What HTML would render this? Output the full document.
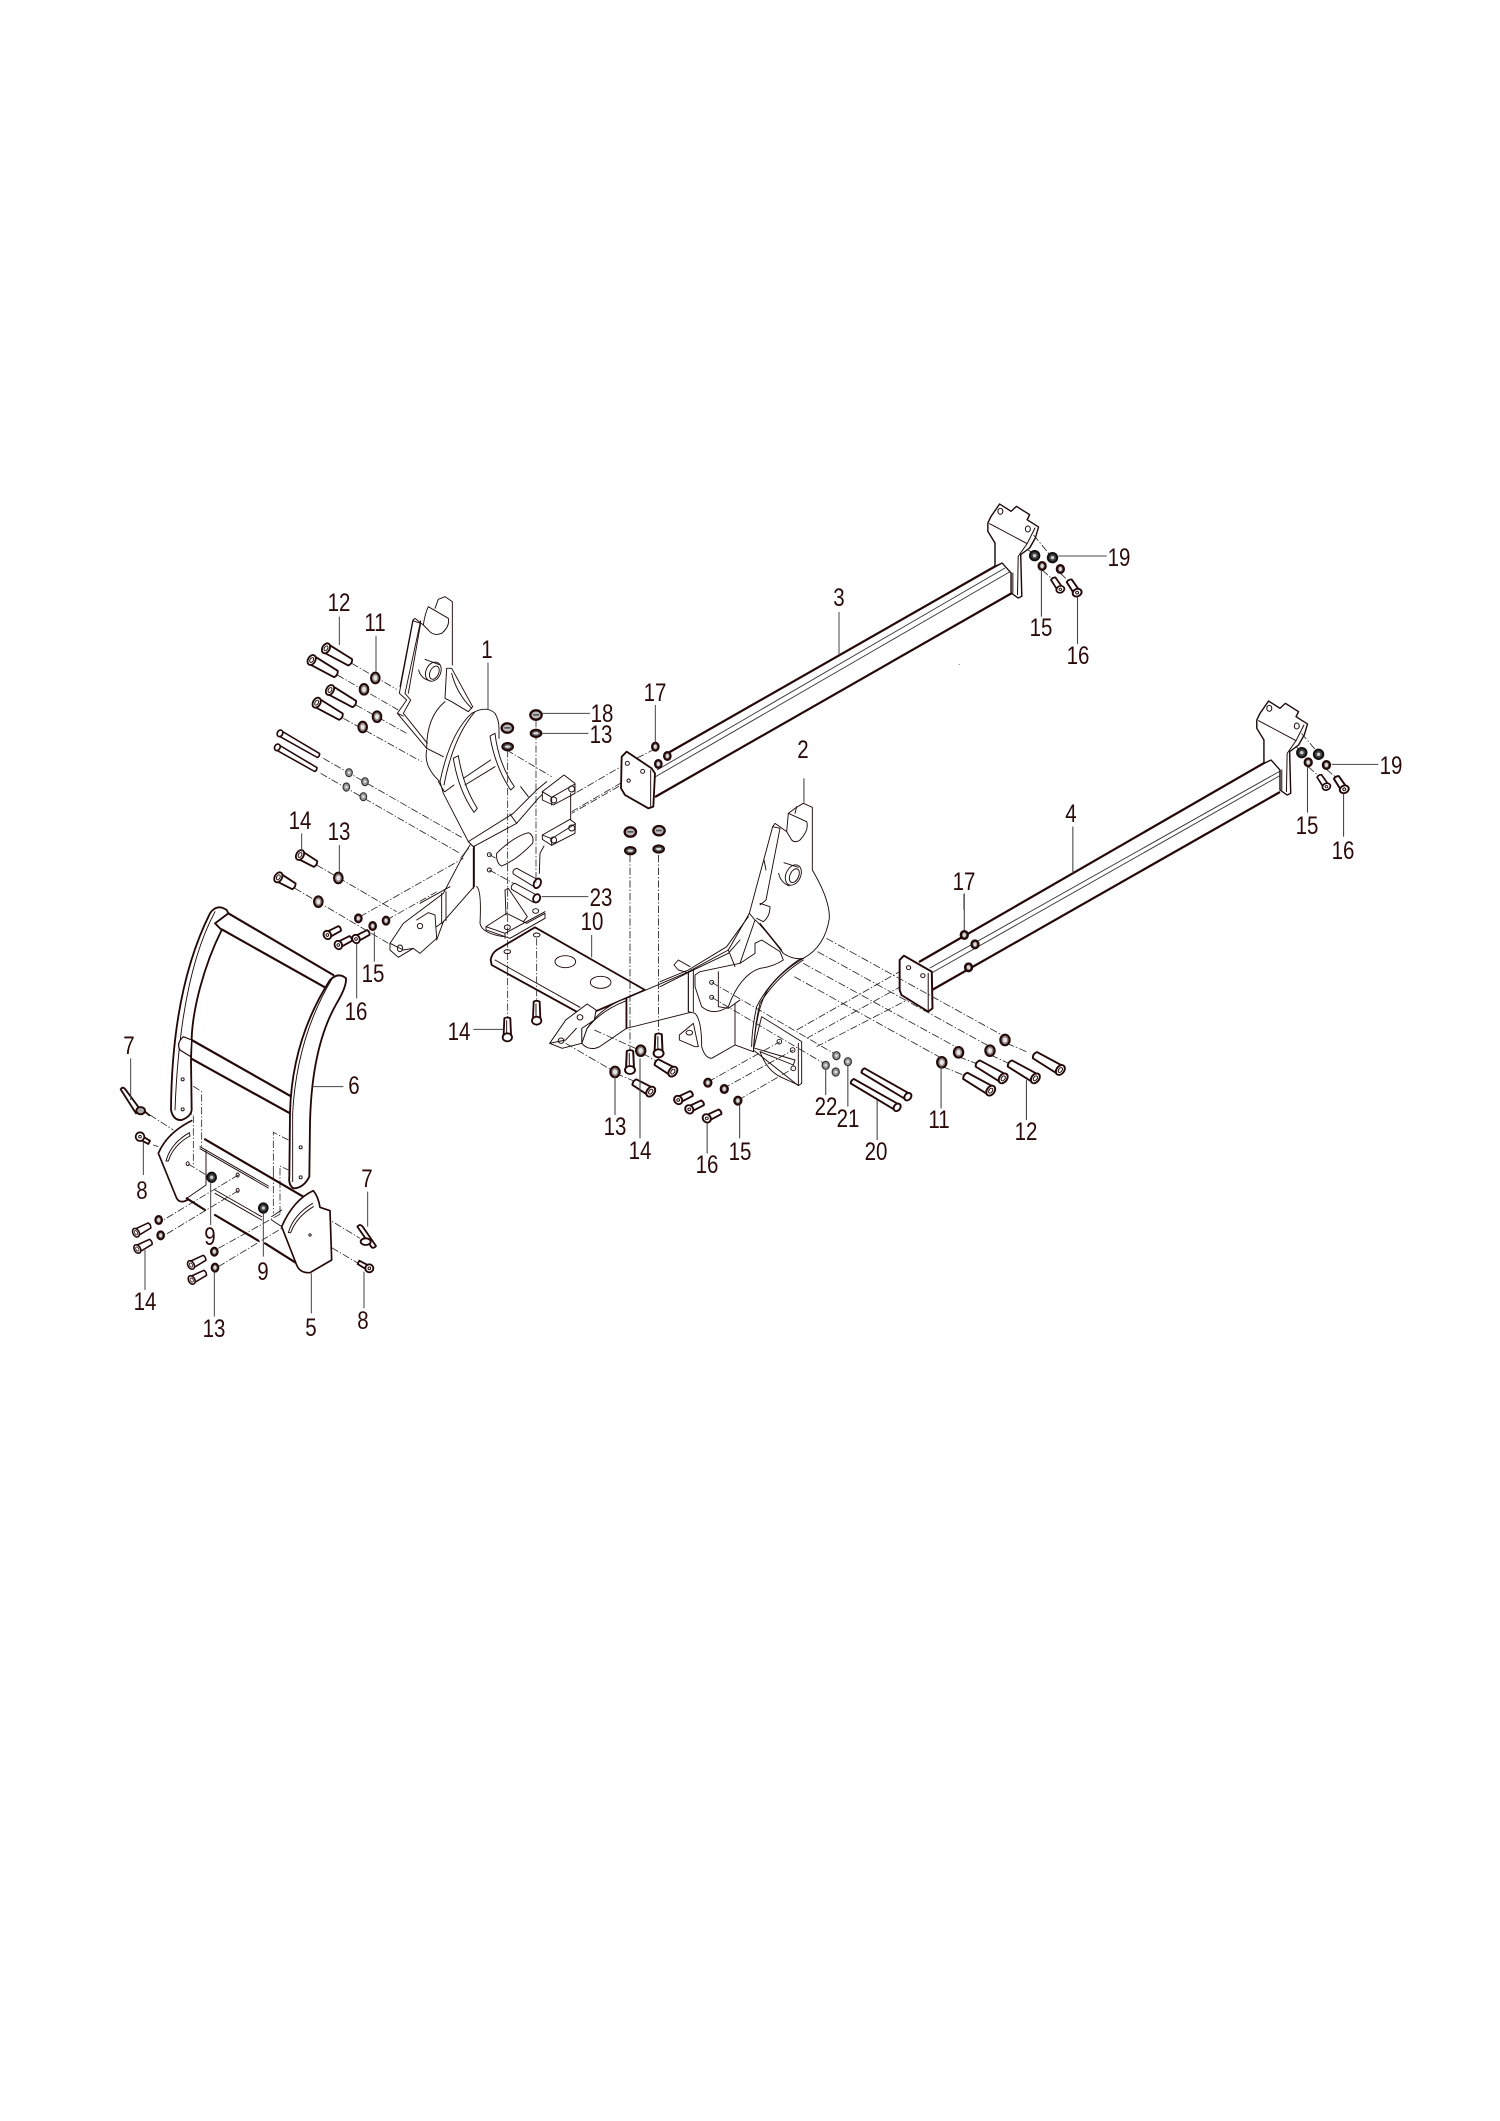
<!DOCTYPE html>
<html><head><meta charset="utf-8"><style>
html,body{margin:0;padding:0;background:#fff}
svg{display:block}
.n{font:25px "Liberation Sans",sans-serif;fill:#2b0a0a;text-anchor:middle;stroke:none}
.t{fill:none;stroke:#1c0a0a;stroke-width:2.8;stroke-linejoin:round;stroke-linecap:round}
.f{fill:#fff;stroke:#1c0a0a;stroke-width:2.8;stroke-linejoin:round;stroke-linecap:round}
.k{fill:none;stroke:#240808;stroke-width:6.5;stroke-linejoin:round;stroke-linecap:round}
.kf{fill:#fff;stroke:#240808;stroke-width:5.5;stroke-linejoin:round;stroke-linecap:round}
.d{fill:none;stroke:#222;stroke-width:2.4;stroke-dasharray:22 6 4 6}
.l{fill:none;stroke:#444;stroke-width:3}
</style></head><body>
<svg width="1500" height="2121" viewBox="0 0 1500 2121" xmlns="http://www.w3.org/2000/svg">
<defs>
<g id="w"><ellipse rx="10" ry="12" fill="#6a6060" stroke="#240808" stroke-width="6"/><ellipse rx="4.5" ry="6" fill="#ddd"/></g>
<g id="wL"><ellipse rx="13" ry="16" fill="#8a8080" stroke="#240808" stroke-width="6"/><ellipse rx="6" ry="8" fill="#e4e4e4"/></g>
<g id="wd"><ellipse rx="13" ry="14" fill="#444" stroke="#111" stroke-width="6"/><ellipse rx="5" ry="5" fill="#ccc"/></g>
<g id="wf"><ellipse rx="16" ry="11" fill="#555" stroke="#240808" stroke-width="6"/><ellipse rx="8" ry="3.5" fill="#ddd"/></g>
<g id="wh"><ellipse rx="17" ry="14" fill="#bbb" stroke="#240808" stroke-width="7"/><rect x="-9" y="-3" width="18" height="5" fill="#555"/></g>
<g id="s"><ellipse rx="10" ry="12" fill="#999" stroke="#333" stroke-width="3.5"/><circle r="3.5" fill="#eee"/></g>
<g id="b12" class="kf"><path d="M0,-14 L84,-11 Q92,0 84,11 L0,14Z"/><ellipse rx="11" ry="16"/><ellipse rx="5" ry="8" class="t"/></g>
<g id="b14" class="kf"><path d="M0,-13 L54,-10 Q60,0 54,10 L0,13Z"/><ellipse rx="11" ry="16"/><ellipse rx="5" ry="8" class="t"/></g>
<g id="b16" class="kf"><path d="M0,-9 L42,-8 Q47,0 42,8 L0,9Z"/><ellipse rx="11" ry="13"/><circle r="4" class="t"/></g>
<g id="bl" class="kf"><path d="M0,-10 L148,-8 Q153,0 148,8 L0,10Z"/><ellipse rx="9" ry="12"/></g>
<g id="bv" class="kf"><path d="M-9,-55 Q0,-60 9,-55 L11,-6 L-11,-6Z"/><ellipse cy="2" rx="14" ry="12"/><path class="t" d="M-2,-48 L-2,-10"/></g>
<g id="end"><path class="f" d="M1055,690 L1064,670 L1088,633 L1120,655 L1135,640 L1172,665 L1165,680 L1197,702 L1188,735 L1172,765 L1147,785 L1150,910 L1140,915 L1120,900 L1120,840 L1095,810 L1075,820 L1075,750 L1055,715Z" style="stroke-width:4"/><path class="t" d="M1060,692 L1165,752 L1187,705 M1165,752 L1140,790 L1138,905 M1125,840 L1125,900"/><ellipse cx="1090" cy="655" rx="7" ry="9" class="t"/><ellipse cx="1167" cy="708" rx="7" ry="9" class="t"/></g>
</defs>

<!-- beams -->
<path d="M668,753 L1001,563 M655,797 L1012,593" fill="none" stroke="#240808" stroke-width="2.2"/>
<path d="M655,777 L1013,570 M657,770 L1005,568" fill="none" stroke="#333" stroke-width=".9"/>
<path d="M919,962 L1271,759 M932,990 L1280,792" fill="none" stroke="#240808" stroke-width="2.2"/>
<path d="M930,968 L1282,770 M928,975 L1281,775" fill="none" stroke="#333" stroke-width=".9"/>
<path d="M839,612 L839,655" class="l" style="stroke-width:1"/>

<!-- Z1a dashes -->
<g transform="translate(250,550) scale(.33333)">
<path class="d" d="M305,340 L440,418 M262,375 L445,480 M318,465 L470,550 M280,505 L515,635 M220,625 L640,865 M212,670 L630,910 M200,945 L440,1085 M135,1015 L415,1180 M330,1100 L640,925 M410,1110 L570,1020 M770,600 L905,680 M1130,640 L975,730 M1180,660 L965,785 M1140,690 L965,790 M1215,597 L1130,640 M718,913 L745,930 M718,960 L800,1005"/>
</g>

<!-- bracket 1 -->
<g transform="translate(400,590) scale(.33333)">
<path class="f" d="M157,35 L157,225 L138,240 L135,335 Q80,380 80,475 Q70,530 120,575 L130,610 L205,755 L220,770 L350,700 L415,625 L440,575 L343,590 L297,420 Q297,390 285,370 Q260,345 215,370 L205,360 L140,235 L135,325 L60,420 L0,300 L38,92 L45,85 L85,50 L105,55 L115,28 L135,20Z" style="stroke:none"/>
<path class="t" d="M105,55 L115,28 L135,20 L157,35 L157,225 M85,50 L145,85 Q150,110 125,130 Q100,140 85,120 L70,105 L45,85 L38,92 L0,290 M85,50 Q75,70 70,105 M62,100 L25,310 M38,92 L62,100"/>
<ellipse cx="100" cy="245" rx="22" ry="30" transform="rotate(25 100 245)" class="f"/><ellipse cx="103" cy="248" rx="13" ry="21" transform="rotate(25 103 248)" class="t"/><path class="t" d="M75,208 L118,224 M56,240 Q62,265 88,272"/>
<path class="t" d="M140,235 L155,235 L218,350 L205,365 M140,235 L135,325 L155,335 L205,365 M155,250 Q170,310 215,355"/>
<path class="t" d="M135,335 Q80,380 80,475 L130,500 M80,480 Q70,530 120,575 L130,610 L205,755 L220,770 M115,575 L133,605"/>
<path class="t" d="M120,575 Q150,430 215,370 Q260,345 285,370 Q297,390 297,415 M132,585 Q160,440 225,365 M297,415 L297,445"/>
<path class="f" d="M160,505 L175,497 Q190,590 232,655 L222,667 Q175,600 160,505Z"/>
<path class="f" d="M270,438 L285,430 Q295,520 343,590 L332,600 Q285,530 270,438Z"/>
<path class="t" d="M190,565 L272,510 M195,585 L285,530 M135,605 L162,585"/>
<path class="t" d="M205,755 L340,670 L410,600 L440,575 M220,770 L350,700 L415,625 L430,610 M330,672 L350,700 M205,755 L220,770 M362,590 L385,620"/>
<path class="t" d="M205,775 L185,800 L130,900 M220,775 L220,895" style="stroke-width:3"/>
<path class="f" d="M427,605 L492,555 L525,580 L525,610 L460,645 L427,630Z"/><path class="t" d="M427,605 L455,622 L525,582 M455,622 L455,645"/><circle cx="515" cy="597" r="9" class="t"/><circle cx="461" cy="630" r="9" class="t"/>
<path class="f" d="M427,735 L510,688 L526,700 L525,730 L455,766 L427,748Z"/><path class="t" d="M427,735 L455,746 L525,702 M455,746 L455,766 M512,610 L512,688"/><circle cx="515" cy="714" r="9" class="t"/><circle cx="461" cy="750" r="9" class="t"/>
<path class="t" d="M432,768 L420,790 L418,850"/>
<path class="f" d="M290,790 Q340,740 385,728 Q403,735 398,760 Q350,810 305,828 Q288,820 290,790"/>
<circle cx="268" cy="794" r="6" class="t"/><circle cx="268" cy="840" r="6" class="t"/>
</g>

<!-- Z1b -->
<g transform="translate(250,550) scale(.33333)">
<path class="t" d="M490,208 L448,430 L470,450 L442,490 L530,595 M512,212 L465,430 L482,450 L460,490 L532,580 M442,490 L460,498"/>
<path class="k" style="stroke-width:5" d="M672,890 L672,1010"/>
<path class="f" d="M800,955 L865,990 L855,1012 L790,972 Q785,960 800,955Z"/><path class="f" d="M795,1000 L860,1035 L850,1057 L785,1018 Q780,1005 795,1000Z"/>
<ellipse cx="862" cy="1000" rx="10" ry="15" transform="rotate(25 862 1000)" class="kf"/><ellipse cx="860" cy="1045" rx="10" ry="13" transform="rotate(25 860 1045)" class="kf"/>
<path class="f" d="M708,1130 L770,1090 L830,1120 L885,1090 L885,1105 L780,1165 L708,1140Z"/><path class="t" d="M765,1020 L775,1015 L832,1100 L820,1115 M765,1020 L768,1095 M708,1130 L765,1150 L885,1085 M765,1150 L765,1165"/>
<ellipse cx="772" cy="1132" rx="9" ry="7" class="t"/><ellipse cx="857" cy="1083" rx="9" ry="7" class="t"/>
<path class="t" d="M680,1010 Q695,1020 690,1120 Q695,1150 760,1160"/>
<path class="f" d="M660,885 L635,925 L580,1030 L460,1120 L420,1180 L420,1200 L445,1222 L490,1195 L510,1210 L560,1165 L555,1095 L535,1088 L500,1110 M672,1010 L580,1115 L560,1130"/>
<path class="t" d="M575,1030 L575,1120 M588,1025 L588,1112 M420,1180 L460,1200 L490,1195 M600,1010 L510,1060 M560,1170 L580,1115"/>
<circle cx="510" cy="1128" r="8" class="t"/><ellipse cx="450" cy="1195" rx="8" ry="10" class="t"/>
<path class="kf" d="M722,1230 Q725,1210 740,1200 L855,1132 L1185,1320 L1000,1400 L980,1385 L725,1245Z"/>
<path class="t" d="M735,1230 L990,1372"/>
<ellipse cx="946" cy="1235" rx="31" ry="18" class="t"/><ellipse cx="1052" cy="1297" rx="31" ry="18" class="t"/><ellipse cx="772" cy="1205" rx="10" ry="6" class="t"/><ellipse cx="860" cy="1155" rx="10" ry="6" class="t"/>
<path class="kf" d="M1115,620 L1130,605 L1205,655 L1215,670 L1210,770 L1195,775 L1125,735 L1113,715Z"/>
<path class="t" d="M1202,660 L1202,770"/><circle cx="1132" cy="640" r="6" class="t"/><circle cx="1178" cy="664" r="6" class="t"/><circle cx="1136" cy="692" r="5" class="t"/>
<path class="d" d="M773,600 L773,1410 M858,510 L858,1000 M860,1165 L860,1360"/>
<use href="#w" x="1216" y="590"/><use href="#w" x="1252" y="618"/><use href="#w" x="1225" y="642"/>
<use href="#b12" transform="translate(228,295) rotate(30)"/><use href="#b12" transform="translate(185,330) rotate(30)"/><use href="#b12" transform="translate(240,420) rotate(30)"/><use href="#b12" transform="translate(200,458) rotate(30)"/>
<use href="#wL" x="376" y="384"/><use href="#wL" x="342" y="418"/><use href="#wL" x="381" y="500"/><use href="#wL" x="338" y="531"/>
<use href="#bl" transform="translate(90,550) rotate(30) scale(.9,.85)"/><use href="#bl" transform="translate(82,592) rotate(30) scale(.9,.85)"/>
<use href="#s" x="297" y="668"/><use href="#s" x="345" y="695"/><use href="#s" x="289" y="711"/><use href="#s" x="340" y="740"/>
<use href="#b14" transform="translate(150,915) rotate(30)"/><use href="#b14" transform="translate(85,982) rotate(30)"/>
<use href="#wL" x="265" y="984"/><use href="#wL" x="205" y="1055"/><use href="#w" x="325" y="1105"/><use href="#w" x="368" y="1128"/><use href="#w" x="408" y="1112"/>
<use href="#b16" transform="translate(232,1155) rotate(-28)"/><use href="#b16" transform="translate(265,1185) rotate(-28)"/><use href="#b16" transform="translate(318,1167) rotate(-28)"/>
<use href="#wh" x="772" y="534"/><use href="#wf" x="773" y="590"/><use href="#wh" x="858" y="495"/><use href="#wf" x="858" y="550"/><use href="#wh" x="1141" y="846"/><use href="#wf" x="1141" y="902"/><use href="#wh" x="1227" y="842"/><use href="#wf" x="1226" y="897"/>
<use href="#bv" x="772" y="1460"/><use href="#bv" x="860" y="1410"/>
<path class="l" d="M268,200 L268,285 M378,258 L378,365 M1216,465 L1216,578 M875,490 L1020,490 M875,550 L1015,550 M155,850 L155,905 M268,885 L268,968 M875,1040 L1015,1040 M1025,1155 L1025,1222 M373,1145 L373,1235 M320,1180 L320,1345 M670,1438 L760,1438 M714,338 L714,478"/>
</g>

<!-- Z3 arm/ear -->
<g transform="translate(480,780) scale(.35714,.33333)">
<path class="f" d="M300,745 Q340,680 410,655 L585,575 L590,697 L410,745 L335,800 Q305,815 285,790Z"/>
<path class="t" d="M300,745 Q340,690 410,662"/>
<path class="k" style="stroke-width:5" d="M410,655 L410,745"/>
<path class="f" d="M195,790 L240,720 L300,672 L325,690 L320,720 L285,745 L285,790 L230,805Z"/><circle cx="280" cy="712" r="8" class="t"/><circle cx="227" cy="782" r="8" class="t"/>
<path class="t" d="M195,790 L240,780 L270,745"/>
</g>

<!-- bracket 2 -->
<g transform="translate(660,790) scale(.33333)">
<path class="f" d="M305,680 L425,755 L425,880 L415,887 L280,780Z"/>
<path class="t" d="M415,760 L415,885"/><circle cx="358" cy="755" r="7" class="t"/><circle cx="398" cy="780" r="7" class="t"/><circle cx="400" cy="835" r="7" class="t"/>
<path class="t" d="M285,775 L405,810 L400,825 L300,785 M300,785 Q320,840 360,860 L415,885"/>
<path class="t" d="M42,525 L55,510 L90,530 M42,525 L55,540 L85,548"/>
<path class="f" d="M405,55 L430,40 L457,52 L457,240 Q510,330 508,385 Q495,470 430,505 Q370,540 330,590 Q290,640 280,785 L225,765 L155,805 Q135,805 125,770 Q125,690 105,670 L85,665 L85,545 L205,480 L268,370 L338,110 L345,100 L380,125 L385,70Z"/>
<path class="t" d="M385,70 L440,95 Q448,120 420,150 Q405,160 395,150 L380,125 M405,70 L410,50 M360,115 L318,330 L300,345 M312,210 L318,240 M338,110 L360,115"/>
<ellipse cx="400" cy="255" rx="22" ry="32" transform="rotate(25 400 255)" class="f"/><ellipse cx="403" cy="257" rx="13" ry="22" transform="rotate(25 403 257)" class="t"/><path class="t" d="M372,218 L415,232 M356,250 Q362,278 388,288"/>
<path class="t" d="M268,370 L285,390 Q300,400 370,490 Q400,510 430,505 M300,340 L330,350 Q330,380 310,395 L290,385 M285,390 L240,520 M300,400 L365,480"/>
<path class="t" d="M0,590 L90,545 L205,490 L240,450 M0,575 L85,540 L200,470 L265,380 M205,480 L225,530"/>
<path class="t" d="M120,545 L240,520 L285,490 L285,460 L305,450 L360,485 L370,510 Q340,530 300,535 Q240,555 205,650 Q160,680 125,650 L105,590 L105,555 Z"/>
<path class="t" d="M175,545 L175,650 L205,655 L240,630 L225,640 M85,545 L85,665 M100,538 L100,665 M225,640 L225,765"/>
<path class="t" d="M430,510 Q350,560 300,640 Q285,700 280,785 M415,510 Q330,570 290,650 Q275,720 275,770 M415,510 L430,505"/>
<path class="f" d="M58,735 L100,700 L115,770 L105,770 L58,750Z"/><ellipse cx="88" cy="728" rx="10" ry="7" class="t"/>
<circle cx="155" cy="577" r="6" class="t"/><circle cx="155" cy="622" r="6" class="t"/>
<path class="d" d="M410,720 L745,530 M440,745 L785,555 M470,770 L790,605 M155,577 L530,795 M155,622 L500,825 M145,875 L360,755 M190,895 L400,780 M235,930 L400,835"/>
</g>

<!-- Z3 hardware -->
<g transform="translate(480,780) scale(.35714,.33333)">
<path class="kf" d="M1175,540 L1187,527 L1265,575 L1267,685 L1255,695 L1180,645 L1175,630Z"/><path class="t" d="M1255,580 L1255,690"/><circle cx="1200" cy="563" r="6" class="t"/><circle cx="1240" cy="587" r="6" class="t"/>
<path class="d" d="M970,475 L1470,770 M945,515 L1428,800 M905,550 L1340,805 M880,590 L1293,835 M420,225 L420,815 M500,225 L500,770 M1475,790 L1530,815 M1430,825 L1490,855 M1340,830 L1400,855 M1295,860 L1360,888 M320,750 L450,812 M240,790 L378,876 M380,880 L435,905 M455,820 L497,845"/>
<use href="#w" x="1356" y="465"/><use href="#w" x="1386" y="493"/><use href="#w" x="1368" y="562"/>
<use href="#wL" x="450" y="812"/><use href="#wL" x="378" y="876"/>
<use href="#bv" x="420" y="868"/><use href="#bv" x="500" y="818"/>
<use href="#b14" transform="translate(540,875) rotate(212)"/><use href="#b14" transform="translate(478,935) rotate(212)"/>
<use href="#w" x="638" y="908"/><use href="#w" x="684" y="927"/><use href="#w" x="722" y="962"/>
<use href="#b16" transform="translate(555,960) rotate(-28)"/><use href="#b16" transform="translate(586,988) rotate(-28)"/><use href="#b16" transform="translate(635,1015) rotate(-28)"/>
<use href="#s" x="998" y="827"/><use href="#s" x="968" y="856"/><use href="#s" x="1030" y="845"/><use href="#s" x="996" y="876"/>
<use href="#bl" transform="translate(1198,950) rotate(212)"/><use href="#bl" transform="translate(1168,982) rotate(212)"/>
<use href="#wL" x="1470" y="780"/><use href="#wL" x="1428" y="812"/><use href="#wL" x="1340" y="817"/><use href="#wL" x="1293" y="847"/>
<use href="#b12" transform="translate(1625,870) rotate(212)"/><use href="#b12" transform="translate(1555,895) rotate(212)"/><use href="#b12" transform="translate(1465,895) rotate(212)"/><use href="#b12" transform="translate(1430,932) rotate(212)"/>
<path class="l" d="M907,-5 L907,68 M378,890 L378,1005 M448,835 L448,1075 M727,975 L727,1075 M636,1030 L636,1120 M968,870 L968,945 M1030,858 L1030,980 M1112,960 L1112,1080 M1291,860 L1291,985 M1530,900 L1530,1020 M1356,340 L1356,450"/>
</g>

<!-- Z4 -->
<g transform="translate(880,490) scale(.35714,.33333)">
<use href="#end"/>
<use href="#end" transform="translate(-753,-591)"/>
<path class="d" d="M430,135 L480,200 M415,180 L430,190 M454,240 L480,265 M505,250 L530,275 M1180,730 L1228,790 M1165,770 L1181,785 M1199,830 L1225,855 M1250,838 L1280,865"/>
<use href="#wd" x="433" y="197"/><use href="#wd" x="483" y="203"/><use href="#w" x="454" y="228"/><use href="#w" x="505" y="237"/>
<use href="#wd" x="1181" y="788"/><use href="#wd" x="1228" y="793"/><use href="#w" x="1199" y="817"/><use href="#w" x="1250" y="825"/>
<use href="#b16" transform="translate(505,298) rotate(-122) scale(.9)"/><use href="#b16" transform="translate(552,308) rotate(-122)"/><use href="#b16" transform="translate(1250,890) rotate(-122) scale(.9)"/><use href="#b16" transform="translate(1300,898) rotate(-122)"/>
<path class="l" d="M500,198 L635,198 M452,240 L452,380 M553,320 L553,462 M1265,823 L1395,823 M1197,830 L1197,968 M1298,910 L1298,1040 M540,1010 L540,1150 M235,1212 L235,1260"/>
<circle cx="222" cy="523" r="1.5" fill="#555"/>
</g>

<!-- Guard -->
<g transform="translate(100,880) scale(.33333)">
<path class="d" d="M150,705 L220,750 M160,795 L175,800 M248,598 L305,635 L305,800 M248,688 L280,705 L280,855 M265,852 L335,895 M415,885 L190,1020 M415,932 L195,1065 M355,1105 L545,1000 M355,1160 L545,1045 M520,880 L520,757 L565,780 M540,1000 L540,858 L565,870 M640,990 L780,1075 M630,1065 L775,1150 M520,880 L520,1000"/>
<path class="k" d="M385,100 L700,285 M365,148 L680,325 M275,480 L575,650 M272,535 L570,700"/>
<path class="kf" d="M330,100 Q350,70 380,90 L385,100 L345,130 L365,150 C310,260 278,390 275,475 L273,540 L275,690 Q272,710 245,720 Q220,722 213,690 C215,400 270,220 330,100Z"/>
<path class="t" d="M345,95 Q240,290 225,690"/>
<path class="kf" d="M240,510 Q228,490 250,470 L275,480 L272,530Z" style="stroke-width:3.5"/>
<path class="kf" d="M690,300 Q715,275 738,295 Q740,320 710,370 Q635,500 630,730 L628,890 Q610,925 580,925 Q565,915 568,890 L570,700 Q575,480 690,300Z"/>
<path class="t" d="M700,290 Q590,470 578,700 L578,905"/>
<circle cx="248" cy="598" r="4.5" class="t"/><circle cx="248" cy="688" r="4.5" class="t"/><circle cx="602" cy="802" r="4.5" class="t"/><circle cx="602" cy="892" r="4.5" class="t"/>
</g>
<g transform="translate(150,1100) scale(.33333)">
<path class="k" d="M165,118 L460,290 M110,295 L165,330 M195,345 L325,422 M345,430 L440,490"/>
<path class="t" d="M150,140 L355,258 M150,146 L355,264 M195,270 L335,350 M195,280 L335,360 M168,150 L168,255 L110,295 M395,380 L440,480 M365,350 L395,330 M365,360 L395,380"/>
<path class="k" style="stroke-width:5" d="M125,62 Q50,100 25,160 L80,295 Q90,312 112,300"/>
<path class="t" d="M48,183 Q62,130 118,98 M55,183 Q70,135 120,108 M48,183 L55,183 M118,98 L120,108"/>
<ellipse cx="113" cy="191" rx="4.5" ry="6" class="t"/><ellipse cx="263" cy="225" rx="4.5" ry="6" class="t"/><ellipse cx="263" cy="271" rx="4.5" ry="6" class="t"/>
<path class="kf" d="M395,380 Q430,300 490,272 Q505,290 510,322 L540,332 L545,480 L480,518 Q450,520 440,495Z" style="stroke-width:5"/>
<path class="t" d="M415,398 Q430,345 488,310 M422,398 Q440,350 490,320 M415,398 L422,398"/><circle cx="480" cy="405" r="3.5" class="t"/>
</g>
<g transform="translate(100,880) scale(.33333)">
<g class="kf"><path d="M62,628 Q68,618 76,628 L118,685 L108,700Z"/><ellipse cx="122" cy="692" rx="13" ry="11" fill="#aaa"/><path d="M135,695 L148,706"/></g>
<g class="kf"><path d="M772,1040 Q780,1030 788,1040 L828,1098 Q822,1106 815,1102Z"/><ellipse cx="797" cy="1085" rx="15" ry="10"/></g>
<g class="kf"><path d="M120,765 L150,782 L145,792 L118,778Z"/><ellipse cx="120" cy="770" rx="13" ry="13"/><circle cx="120" cy="770" r="4" class="t"/></g>
<g class="kf"><path d="M808,1158 L778,1142 L773,1152 L805,1172Z"/><ellipse cx="808" cy="1165" rx="12" ry="12"/><circle cx="808" cy="1165" r="4" class="t"/></g>
<use href="#wd" x="335" y="892"/><use href="#wd" x="490" y="984"/>
<use href="#b14" transform="translate(108,1058) rotate(-28) scale(.85)"/><use href="#b14" transform="translate(112,1107) rotate(-28) scale(.85)"/><use href="#b14" transform="translate(273,1155) rotate(-28) scale(.85)"/><use href="#b14" transform="translate(275,1200) rotate(-28) scale(.85)"/>
<use href="#w" x="176" y="1020"/><use href="#w" x="182" y="1066"/><use href="#w" x="343" y="1115"/><use href="#w" x="345" y="1163"/>
<path class="l" d="M92,535 L92,660 M640,620 L730,620 M130,785 L130,885 M332,905 L332,1035 M490,1000 L490,1130 M803,935 L803,1040 M135,1110 L135,1230 M343,1175 L343,1310 M634,1180 L634,1300 M792,1175 L792,1285"/>
</g>

<!-- labels -->
<g>
<text class="n" transform="translate(339,611) scale(.82,1)">12</text>
<text class="n" transform="translate(375,631) scale(.82,1)">11</text>
<text class="n" transform="translate(487,658) scale(.82,1)">1</text>
<text class="n" transform="translate(655,701) scale(.82,1)">17</text>
<text class="n" transform="translate(602,722) scale(.82,1)">18</text>
<text class="n" transform="translate(601,743) scale(.82,1)">13</text>
<text class="n" transform="translate(300,829) scale(.82,1)">14</text>
<text class="n" transform="translate(339,840) scale(.82,1)">13</text>
<text class="n" transform="translate(601,906) scale(.82,1)">23</text>
<text class="n" transform="translate(592,930) scale(.82,1)">10</text>
<text class="n" transform="translate(373,982) scale(.82,1)">15</text>
<text class="n" transform="translate(356,1020) scale(.82,1)">16</text>
<text class="n" transform="translate(459,1040) scale(.82,1)">14</text>
<text class="n" transform="translate(129,1054) scale(.82,1)">7</text>
<text class="n" transform="translate(354,1094) scale(.82,1)">6</text>
<text class="n" transform="translate(142,1199) scale(.82,1)">8</text>
<text class="n" transform="translate(210,1245) scale(.82,1)">9</text>
<text class="n" transform="translate(367,1187) scale(.82,1)">7</text>
<text class="n" transform="translate(263,1280) scale(.82,1)">9</text>
<text class="n" transform="translate(145,1310) scale(.82,1)">14</text>
<text class="n" transform="translate(214,1337) scale(.82,1)">13</text>
<text class="n" transform="translate(311,1336) scale(.82,1)">5</text>
<text class="n" transform="translate(363,1329) scale(.82,1)">8</text>
<text class="n" transform="translate(615,1135) scale(.82,1)">13</text>
<text class="n" transform="translate(640,1159) scale(.82,1)">14</text>
<text class="n" transform="translate(707,1173) scale(.82,1)">16</text>
<text class="n" transform="translate(740,1160) scale(.82,1)">15</text>
<text class="n" transform="translate(826,1115) scale(.82,1)">22</text>
<text class="n" transform="translate(848,1127) scale(.82,1)">21</text>
<text class="n" transform="translate(876,1160) scale(.82,1)">20</text>
<text class="n" transform="translate(939,1128) scale(.82,1)">11</text>
<text class="n" transform="translate(1026,1140) scale(.82,1)">12</text>
<text class="n" transform="translate(964,890) scale(.82,1)">17</text>
<text class="n" transform="translate(1119,566) scale(.82,1)">19</text>
<text class="n" transform="translate(1041,636) scale(.82,1)">15</text>
<text class="n" transform="translate(1078,664) scale(.82,1)">16</text>
<text class="n" transform="translate(1071,822) scale(.82,1)">4</text>
<text class="n" transform="translate(1391,774) scale(.82,1)">19</text>
<text class="n" transform="translate(1307,834) scale(.82,1)">15</text>
<text class="n" transform="translate(1343,859) scale(.82,1)">16</text>
<text class="n" transform="translate(839,606) scale(.82,1)">3</text>
<text class="n" transform="translate(803,758) scale(.82,1)">2</text>
</g>
</svg>
</body></html>
